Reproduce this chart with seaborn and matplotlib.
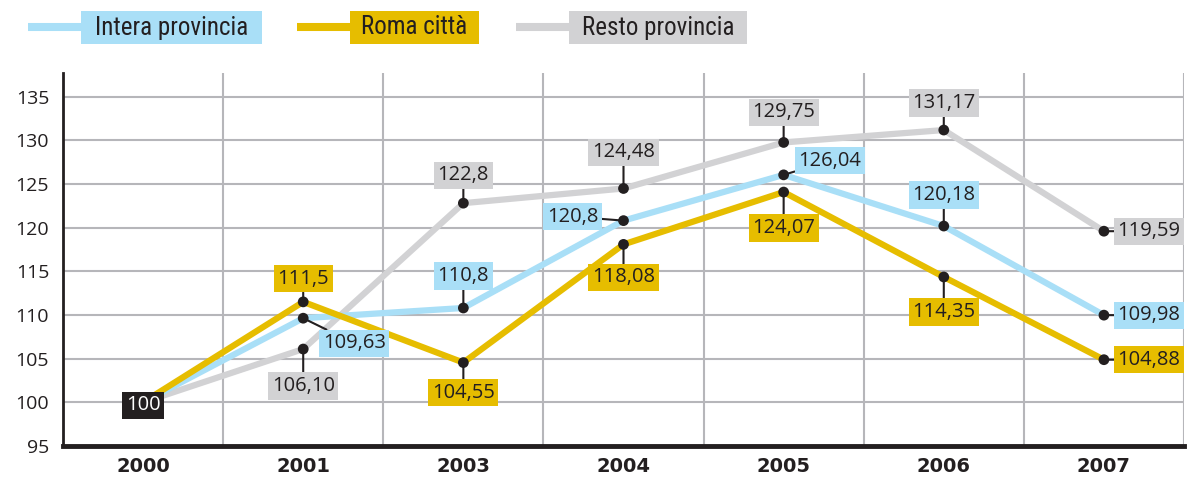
import matplotlib
matplotlib.use("Agg")
import matplotlib.pyplot as plt
import seaborn as sns
import pandas as pd
import numpy as np
from matplotlib.lines import Line2D
from matplotlib.patches import Rectangle
from matplotlib import font_manager

years = ["2000", "2001", "2003", "2004", "2005", "2006", "2007"]
intera = [100, 109.63, 110.8, 120.8, 126.04, 120.18, 109.98]
roma = [100, 111.5, 104.55, 118.08, 124.07, 114.35, 104.88]
resto = [100, 106.10, 122.8, 124.48, 129.75, 131.17, 119.59]
series_names = ["Intera provincia", "Roma città", "Resto provincia"]
intera_labels = ["100", "109,63", "110,8", "120,8", "126,04", "120,18", "109,98"]
roma_labels = ["100", "111,5", "104,55", "118,08", "124,07", "114,35", "104,88"]
resto_labels = ["100", "106,10", "122,8", "124,48", "129,75", "131,17", "119,59"]
y_ticks = [95, 100, 105, 110, 115, 120, 125, 130, 135]

BLUE = "#a9dff7"
GOLD = "#e6bd00"
GRAY = "#d2d2d4"
GRID = "#b6b6ba"
INK = "#231f20"

sns.set_theme(style="white")
avail = {f.name for f in font_manager.fontManager.ttflist}
main_font = "Open Sans" if "Open Sans" in avail else "DejaVu Sans"
narrow = None
for cand in ["Liberation Sans Narrow", "DejaVu Sans Condensed", "Roboto Condensed"]:
    if cand in avail:
        narrow = cand
        break
if narrow is None:
    narrow = main_font
plt.rcParams["font.family"] = [main_font, "DejaVu Sans"]

df = pd.DataFrame({
    "x": list(range(len(years))) * 3,
    "value": intera + roma + resto,
    "serie": [series_names[0]] * 7 + [series_names[1]] * 7 + [series_names[2]] * 7,
})
palette = {series_names[0]: BLUE, series_names[1]: GOLD, series_names[2]: GRAY}

W, H = 1194, 480
fig = plt.figure(figsize=(W / 100, H / 100), dpi=100)
ax = fig.add_axes([63 / W, 1 - 446 / H, (1184 - 63) / W, (446 - 73) / H])

for name, z in [(series_names[2], 2), (series_names[0], 3), (series_names[1], 4)]:
    sub = df[df["serie"] == name]
    sns.lineplot(data=sub, x="x", y="value", color=palette[name], lw=4.5,
                 ax=ax, zorder=z, legend=False, solid_capstyle="butt")

dots = df[df["x"] > 0]
sns.scatterplot(data=dots, x="x", y="value", color=INK, s=60, ax=ax,
                zorder=6, edgecolor="none", legend=False)

ax.set_xlim(-0.5, 6.5)
ax.set_ylim(95, 137.7)
ax.set_xticks(range(len(years)))
ax.set_xticklabels(years, fontweight="bold", fontsize=14, color=INK,
                   family=["DejaVu Sans"])
ax.set_xticks(np.arange(-0.5, 7, 1), minor=True)
ax.set_yticks(y_ticks)
ax.set_yticklabels([str(v) for v in y_ticks], fontsize=14, color=INK)
ax.tick_params(axis="x", which="major", length=0, pad=8)
ax.tick_params(axis="x", which="minor", length=9, width=2, color=INK, direction="out")
ax.tick_params(axis="y", length=0, pad=10)
ax.grid(False)
ax.xaxis.grid(True, which="minor", color=GRID, lw=1.5)
ax.yaxis.grid(True, which="major", color=GRID, lw=1.5)
ax.set_axisbelow(True)
ax.set_xlabel("")
ax.set_ylabel("")
for s in ["top", "right"]:
    ax.spines[s].set_visible(False)
ax.spines["left"].set_color(INK)
ax.spines["left"].set_linewidth(2)
ax.spines["bottom"].set_color(INK)
ax.spines["bottom"].set_linewidth(3.5)
ax.spines["bottom"].set_zorder(7)

# label offsets in pixels (dx, dy) for each series, by index
offsets = {
    "intera": [None, (51, -25), (0, 32), (-51, 4), (46, 14), (0, 31), (45, 0)],
    "roma": [None, (0, 23), (0, -30), (0, -33), (0, -36), (0, -35), (45, 0)],
    "resto": [None, (0, -37), (0, 28), (0, 36), (0, 30), (0, 27), (45, 0)],
}
specs = [("intera", intera, intera_labels, BLUE),
         ("roma", roma, roma_labels, GOLD),
         ("resto", resto, resto_labels, GRAY)]
for key, vals, labs, col in specs:
    for i, (v, lab) in enumerate(zip(vals, labs)):
        off = offsets[key][i]
        if off is None:
            continue
        ax.annotate(lab, xy=(i, v), xytext=off, textcoords="offset pixels",
                    ha="center", va="center", fontsize=14.5, color=INK,
                    bbox=dict(boxstyle="square,pad=0.18", fc=col, ec="none"),
                    arrowprops=dict(arrowstyle="-", color=INK, lw=1.5,
                                    shrinkA=0, shrinkB=0),
                    zorder=8, annotation_clip=False)

# starting value label
ax.annotate(intera_labels[0], xy=(0, intera[0]), xytext=(0, -3),
            textcoords="offset pixels", ha="center", va="center",
            fontsize=14.5, color="white",
            bbox=dict(boxstyle="square,pad=0.18", fc=INK, ec="none"), zorder=8)

# legend (pixel geometry: line start, box start, box end)
legend_items = [(series_names[0], BLUE, 28, 81, 262),
                (series_names[1], GOLD, 297, 350, 479),
                (series_names[2], GRAY, 516, 569, 747)]
box_top, box_bot = 11, 44
ly = 1 - 27 / H
for name, col, x0, x1, x2 in legend_items:
    fig.add_artist(Line2D([x0 / W, x1 / W], [ly, ly], color=col, lw=5.8,
                          solid_capstyle="butt", transform=fig.transFigure))
    fig.add_artist(Rectangle((x1 / W, 1 - box_bot / H), (x2 - x1) / W,
                             (box_bot - box_top) / H, fc=col, ec="none",
                             transform=fig.transFigure))
    fig.text((x1 + x2) / 2 / W, 1 - (box_top + box_bot) / 2 / H, name,
             ha="center", va="center", fontsize=18,
             family=[narrow, "DejaVu Sans"], color=INK)

fig.savefig("out.png", dpi=100, facecolor="white")
